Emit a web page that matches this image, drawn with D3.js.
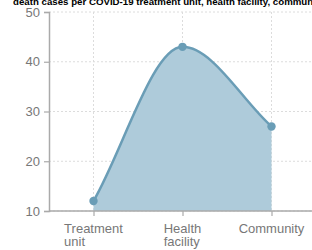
<!DOCTYPE html>
<html>
<head>
<meta charset="utf-8">
<script src="https://cdn.jsdelivr.net/npm/d3@7"></script>
<style>
  html, body { margin: 0; padding: 0; background: #fff; }
  svg { display: block; }
</style>
</head>
<body>
<svg id="chart" width="312" height="250"></svg>
<script>
const title = "death cases per COVID-19 treatment unit, health facility, community";
const categories = ["Treatment unit", "Health facility", "Community"];
const values = [12, 43, 27];
const yTicks = [10, 20, 30, 40, 50];

// monotone cubic curve (endpoint tangents = end secants) as a d3 curve factory
function MonoCurve(context) { this._context = context; }
MonoCurve.prototype = {
  areaStart() { this._line = 0; },
  areaEnd() { this._line = NaN; },
  lineStart() { this._x = []; this._y = []; },
  point(x, y) { this._x.push(+x); this._y.push(+y); },
  lineEnd() {
    const X = this._x, Y = this._y, n = X.length, ctx = this._context;
    if (n) {
      this._line ? ctx.lineTo(X[0], Y[0]) : ctx.moveTo(X[0], Y[0]);
      if (n === 2) ctx.lineTo(X[1], Y[1]);
      else if (n > 2) {
        const d = [], m = [];
        for (let i = 0; i < n - 1; i++) d[i] = (Y[i + 1] - Y[i]) / (X[i + 1] - X[i]);
        for (let i = 0; i < n; i++) {
          m[i] = i === 0 ? d[0] : i === n - 1 ? d[n - 2]
            : (Math.sign(d[i - 1]) !== Math.sign(d[i]) ? 0 : (d[i - 1] + d[i]) / 2);
        }
        for (let i = 0; i < n - 1; i++) {
          if (d[i] === 0) { m[i] = m[i + 1] = 0; continue; }
          const a = m[i] / d[i], b = m[i + 1] / d[i], s = a * a + b * b;
          if (s > 9) { const t = 3 / Math.sqrt(s); m[i] = t * a * d[i]; m[i + 1] = t * b * d[i]; }
        }
        for (let i = 0; i < n - 1; i++) {
          const dx = (X[i + 1] - X[i]) / 3;
          ctx.bezierCurveTo(X[i] + dx, Y[i] + m[i] * dx, X[i + 1] - dx, Y[i + 1] - m[i + 1] * dx, X[i + 1], Y[i + 1]);
        }
      }
    }
    if (this._line || (this._line !== 0 && n === 1)) ctx.closePath();
    this._line = 1 - this._line;
    this._x = this._y = null;
  }
};
const curveMono = ctx => new MonoCurve(ctx);

const svg = d3.select("#chart");
const W = 312, H = 250;
const mLeft = 49, mTop = 12, mBottom = 211;

const x = d3.scalePoint().domain(categories).range([mLeft, 316]).padding(0.5);
const y = d3.scaleLinear().domain([10, 50]).range([mBottom, mTop]);

// grid
const grid = svg.append("g");
grid.selectAll("line.h").data(yTicks).join("line")
  .attr("x1", mLeft).attr("x2", W)
  .attr("y1", d => y(d)).attr("y2", d => y(d))
  .attr("stroke", "#dcdcdc").attr("stroke-dasharray", "2,2").attr("stroke-width", 1);
grid.selectAll("line.v").data(categories).join("line")
  .attr("x1", d => x(d)).attr("x2", d => x(d))
  .attr("y1", mTop).attr("y2", mBottom)
  .attr("stroke", "#dcdcdc").attr("stroke-dasharray", "2,2").attr("stroke-width", 1);

const data = categories.map((c, i) => ({c, v: values[i]}));

const area = d3.area()
  .x(d => x(d.c)).y0(y(10)).y1(d => y(d.v))
  .curve(curveMono);
const line = d3.line()
  .x(d => x(d.c)).y(d => y(d.v))
  .curve(curveMono);

svg.append("path").datum(data).attr("d", area)
  .attr("fill", "#aecbda");
svg.append("path").datum(data).attr("d", line)
  .attr("fill", "none").attr("stroke", "#6a9db6").attr("stroke-width", 2.5);
svg.selectAll("circle.pt").data(data).join("circle")
  .attr("cx", d => x(d.c)).attr("cy", d => y(d.v)).attr("r", 4.2)
  .attr("fill", "#6a9db6");

// y axis
const yAxis = svg.append("g").attr("transform", `translate(${mLeft},0)`)
  .call(d3.axisLeft(y).tickValues(yTicks).tickSize(5).tickPadding(4));
yAxis.select(".domain").attr("stroke", "#aaa").attr("stroke-width", 1.5);
yAxis.selectAll(".tick line").attr("stroke", "#aaa").attr("stroke-width", 1.2);
yAxis.selectAll(".tick text").attr("fill", "#777")
  .attr("font-family", "Liberation Sans, Arial, sans-serif").attr("font-size", 13);

// x axis
const xAxis = svg.append("g").attr("transform", `translate(0,${mBottom})`)
  .call(d3.axisBottom(x).tickSize(5).tickFormat(""));
xAxis.select(".domain").remove();
xAxis.selectAll(".tick text").remove();
svg.append("line").attr("x1", mLeft).attr("x2", W).attr("y1", mBottom).attr("y2", mBottom)
  .attr("stroke", "#aaa").attr("stroke-width", 1.5);
xAxis.selectAll(".tick line").attr("stroke", "#aaa").attr("stroke-width", 1.2);

// x labels: first line centered, following lines aligned to its left edge
categories.forEach(c => {
  const words = c.split(" ");
  const t = svg.append("text")
    .attr("font-family", "Liberation Sans, Arial, sans-serif").attr("font-size", 13)
    .attr("fill", "#777");
  const first = t.append("tspan").text(words[0]);
  const w = first.node().getComputedTextLength();
  const x0 = x(c) - w / 2;
  first.attr("x", x0).attr("y", 233);
  if (words.length > 1) {
    t.append("tspan").attr("x", x0).attr("y", 246).text(words.slice(1).join(" "));
  }
});

// title
svg.append("text").attr("x", 13).attr("y", 5)
  .attr("font-family", "Liberation Sans, Arial, sans-serif").attr("font-size", 9.7)
  .attr("font-weight", "bold").attr("fill", "#000")
  .text(title);
</script>
</body>
</html>
